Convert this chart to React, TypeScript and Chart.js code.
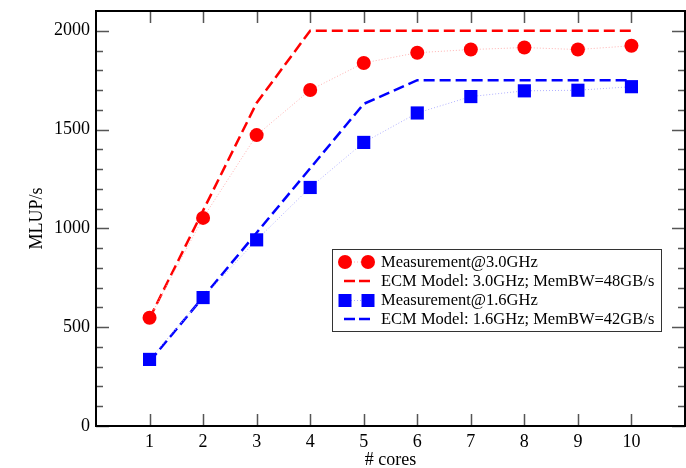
import React, { useEffect, useRef } from "react";
import { Chart, registerables } from "chart.js";

Chart.register(...registerables);

const cores = [1, 2, 3, 4, 5, 6, 7, 8, 9, 10];
const meas30 = [548, 1053, 1472, 1700, 1837, 1889, 1905, 1915, 1905, 1924];
const model30 = [545, 1090, 1635, 2000, 2000, 2000, 2000, 2000, 2000, 2000];
const meas16 = [337, 650, 942, 1207, 1435, 1584, 1667, 1696, 1699, 1717];
const model16 = [326, 652, 978, 1304, 1630, 1750, 1750, 1750, 1750, 1750];
const yMajor = [0, 500, 1000, 1500, 2000];
const yMinor = [100, 200, 300, 400, 600, 700, 800, 900, 1100, 1200, 1300, 1400, 1600, 1700, 1800, 1900];
const labels = [
  "Measurement@3.0GHz",
  "ECM Model: 3.0GHz; MemBW=48GB/s",
  "Measurement@1.6GHz",
  "ECM Model: 1.6GHz; MemBW=42GB/s",
];

const FONT = "'Liberation Serif', 'DejaVu Serif', serif";
const RED = "#ff0000";
const BLUE = "#0000ff";

const pts = (ys: number[]) => cores.map((c, i) => ({ x: c, y: ys[i] }));

const zeroPad = (s: any) => {
  s.paddingTop = 0;
  s.paddingBottom = 0;
  s.paddingLeft = 0;
  s.paddingRight = 0;
};

const framePlugin = {
  id: "frameTicks",
  afterDraw(chart: any) {
    const { ctx, chartArea: a, scales } = chart;
    const xs = scales.x;
    const ys = scales.y;
    ctx.save();
    ctx.strokeStyle = "#555";
    ctx.lineWidth = 1.5;
    ctx.beginPath();
    cores.forEach((c) => {
      const px = Math.round(xs.getPixelForValue(c)) + 0.5;
      ctx.moveTo(px, a.bottom);
      ctx.lineTo(px, a.bottom - 12);
      ctx.moveTo(px, a.top);
      ctx.lineTo(px, a.top + 12);
    });
    yMajor.forEach((v) => {
      const py = Math.round(ys.getPixelForValue(v)) + 0.5;
      ctx.moveTo(a.left, py);
      ctx.lineTo(a.left + 13, py);
      ctx.moveTo(a.right, py);
      ctx.lineTo(a.right - 13, py);
    });
    yMinor.forEach((v) => {
      const py = Math.round(ys.getPixelForValue(v)) + 0.5;
      ctx.moveTo(a.left, py);
      ctx.lineTo(a.left + 7, py);
      ctx.moveTo(a.right, py);
      ctx.lineTo(a.right - 7, py);
    });
    ctx.stroke();
    ctx.strokeStyle = "#000";
    ctx.lineWidth = 2;
    ctx.strokeRect(a.left, a.top, a.right - a.left, a.bottom - a.top);

    // legend box
    const bx = 332, by = 249, bw = 329, bh = 82;
    ctx.fillStyle = "#fff";
    ctx.fillRect(bx, by, bw, bh);
    ctx.strokeStyle = "#333";
    ctx.lineWidth = 1;
    ctx.strokeRect(bx + 0.5, by + 0.5, bw, bh);
    const rows = [262, 281, 300.5, 319];
    const m1 = 345, m2 = 368;
    ctx.font = `16.5px ${FONT}`;
    ctx.textBaseline = "middle";
    ctx.textAlign = "left";
    rows.forEach((ry, i) => {
      const color = i < 2 ? RED : BLUE;
      const pale = i < 2 ? "#ffb0b0" : "#b0b0ff";
      if (i % 2 === 0) {
        ctx.strokeStyle = pale;
        ctx.lineWidth = 1;
        ctx.setLineDash([1, 2]);
        ctx.beginPath();
        ctx.moveTo(m1, ry);
        ctx.lineTo(m2, ry);
        ctx.stroke();
        ctx.setLineDash([]);
        ctx.fillStyle = color;
        [m1, m2].forEach((mx) => {
          ctx.beginPath();
          if (i === 0) ctx.arc(mx, ry, 7, 0, Math.PI * 2);
          else ctx.rect(mx - 6.5, ry - 6.5, 13, 13);
          ctx.fill();
        });
      } else {
        ctx.strokeStyle = color;
        ctx.lineWidth = 2.5;
        ctx.setLineDash([11, 4]);
        ctx.beginPath();
        ctx.moveTo(m1 - 1, ry);
        ctx.lineTo(m2 + 3, ry);
        ctx.stroke();
        ctx.setLineDash([]);
      }
      ctx.fillStyle = "#000";
      ctx.fillText(labels[i], 381, ry + 0.5);
    });
    ctx.restore();
  },
};

export default function App() {
  const ref = useRef<HTMLCanvasElement>(null);
  useEffect(() => {
    if (!ref.current) return;
    const chart = new Chart(ref.current, {
      type: "line",
      data: {
        datasets: [
          {
            label: labels[0],
            data: pts(meas30),
            borderColor: "#ffb0b0",
            borderWidth: 1,
            borderDash: [1, 2],
            pointStyle: "circle",
            pointRadius: 7,
            pointBackgroundColor: RED,
            pointBorderColor: RED,
            pointBorderWidth: 0,
            order: 1,
          },
          {
            label: labels[1],
            data: pts(model30),
            borderColor: RED,
            borderWidth: 2.5,
            borderDash: [11, 5],
            pointRadius: 0,
            order: 2,
          },
          {
            label: labels[2],
            data: pts(meas16),
            borderColor: "#b0b0ff",
            borderWidth: 1,
            borderDash: [1, 2],
            pointStyle: "rect",
            pointRadius: 9.3,
            pointBackgroundColor: BLUE,
            pointBorderColor: BLUE,
            pointBorderWidth: 0,
            order: 1,
          },
          {
            label: labels[3],
            data: pts(model16),
            borderColor: BLUE,
            borderWidth: 2.5,
            borderDash: [11, 5],
            pointRadius: 0,
            order: 2,
          },
        ],
      },
      options: {
        animation: false,
        responsive: true,
        maintainAspectRatio: false,
        layout: { autoPadding: false, padding: { top: 11, right: 1, left: 1, bottom: 0 } },
        plugins: { legend: { display: false }, tooltip: { enabled: false } },
        scales: {
          x: {
            type: "linear",
            min: 0,
            max: 11,
            grid: { display: false, drawTicks: false },
            border: { display: false },
            afterBuildTicks: (s: any) => {
              s.ticks = cores.map((v) => ({ value: v }));
            },
            afterFit: (s: any) => {
              s.height = 42;
              zeroPad(s);
            },
            ticks: {
              font: { family: FONT, size: 18 },
              color: "#000",
              padding: 5,
              maxRotation: 0,
              callback: (v: any) => String(v),
            },
            title: {
              display: true,
              text: "# cores",
              font: { family: FONT, size: 18, lineHeight: 1 },
              color: "#000",
              padding: { top: 0, bottom: -1 },
            },
          },
          y: {
            type: "linear",
            min: 0,
            max: 2100,
            grid: { display: false, drawTicks: false },
            border: { display: false },
            afterBuildTicks: (s: any) => {
              s.ticks = yMajor.map((v) => ({ value: v }));
            },
            afterFit: (s: any) => {
              s.width = 95;
              zeroPad(s);
            },
            ticks: {
              font: { family: FONT, size: 18 },
              color: "#000",
              padding: 6,
              callback: (v: any) => String(v),
            },
            title: {
              display: true,
              text: "MLUP/s",
              font: { family: FONT, size: 18, lineHeight: 1 },
              color: "#000",
              padding: { top: 27, bottom: 0 },
            },
          },
        },
      },
      plugins: [framePlugin],
    });
    return () => chart.destroy();
  }, []);
  return (
    <div style={{ position: "absolute", left: 0, top: 0, width: 686, height: 468 }}>
      <canvas ref={ref} />
    </div>
  );
}
